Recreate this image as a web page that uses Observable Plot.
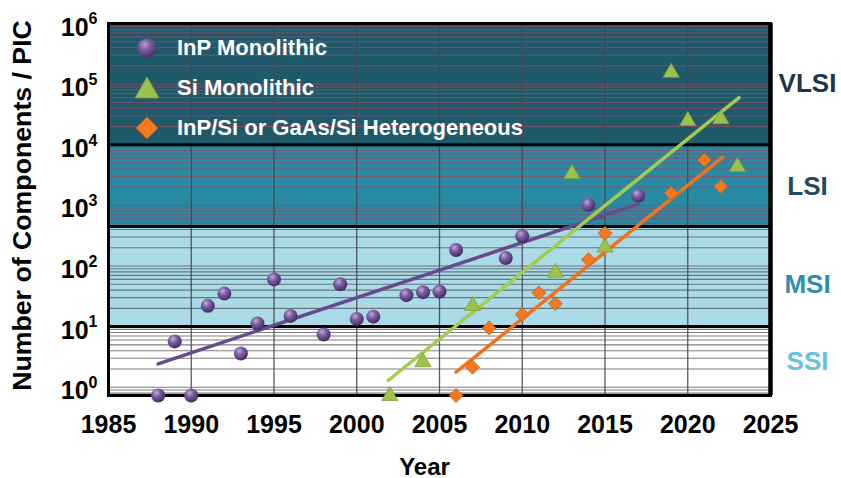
<!DOCTYPE html>
<html>
<head>
<meta charset="utf-8">
<script src="https://cdn.jsdelivr.net/npm/d3@7"></script>
<script src="https://cdn.jsdelivr.net/npm/@observablehq/plot@0.6"></script>
<style>
  html, body { margin: 0; padding: 0; background: #ffffff; }
  #wrap { position: relative; width: 841px; height: 478px; overflow: hidden; }
  #wrap svg { display: block; }
  .legend { position: absolute; left: 125px; top: 28px; font-family: "Liberation Sans", Arial, sans-serif; font-weight: bold; font-size: 22px; color: #ffffff; }
  .legend .row { display: flex; align-items: center; height: 40px; }
  .legend .row svg { width: 44px; height: 40px; margin-right: 8px; overflow: visible; }
</style>
</head>
<body>
<div id="wrap"></div>
<script>
// ---------- data ----------
const inpYears  = [1988, 1989, 1990, 1991, 1992, 1993, 1994, 1995, 1996, 1998, 1999, 2000, 2001, 2003, 2004, 2005, 2006, 2009, 2010, 2014, 2017];
const inpValues = [0.73, 5.7, 0.73, 22, 35, 3.6, 11.3, 60, 15, 7.4, 50, 13.4, 14.6, 33, 37, 38, 183, 135, 310, 1020, 1450];

const siYears  = [2002, 2004, 2007, 2012, 2013, 2015, 2019, 2020, 2022, 2023];
const siValues = [0.72, 2.6, 22, 78, 3300, 203, 155000, 24800, 26500, 4340];

const hetYears  = [2006, 2007, 2008, 2010, 2011, 2012, 2014, 2015, 2019, 2021, 2022];
const hetValues = [0.73, 2.14, 9.5, 15.8, 36, 24, 127, 346, 1590, 5600, 2040];

// trend line end points
const inpTrendYears = [1988, 2017];
const inpTrendValues = [2.43, 1050];
const siTrendYears = [2001.9, 2023.1];
const siTrendValues = [1.29, 60000];
const hetTrendYears = [2006, 2022.1];
const hetTrendValues = [1.77, 6170];

// integration bands
const bandNames   = ["SSI", "MSI", "LSI", "VLSI"];
const bandLow     = [0.73, 10, 450, 1e4];
const bandHigh    = [10, 450, 1e4, 1e6];
const bandFills   = ["#ffffff", "#aadbe6", "#2b8aa3", "#1f5a6b"];
const bandLabelAt = [2.6, 50, 2000, 1e5];
const bandLabelColors = ["#66c3da", "#2e8db0", "#1f4d5f", "#19384a"];

const seriesNames = ["InP Monolithic", "Si Monolithic", "InP/Si or GaAs/Si Heterogeneous"];

const xTicks = [1985, 1990, 1995, 2000, 2005, 2010, 2015, 2020, 2025];
const yTicks = [1, 10, 100, 1000, 1e4, 1e5, 1e6];
const yDomain = [0.73, 1e6];
const xDomain = [1985, 2025];

// ---------- derived tables ----------
const inp = inpYears.map((y, i) => ({year: y, value: inpValues[i]}));
const si = siYears.map((y, i) => ({year: y, value: siValues[i]}));
const het = hetYears.map((y, i) => ({year: y, value: hetValues[i]}));
const inpTrend = inpTrendYears.map((y, i) => ({year: y, value: inpTrendValues[i]}));
const siTrend = siTrendYears.map((y, i) => ({year: y, value: siTrendValues[i]}));
const hetTrend = hetTrendYears.map((y, i) => ({year: y, value: hetTrendValues[i]}));
const bands = bandNames.map((n, i) => ({name: n, lo: bandLow[i], hi: bandHigh[i], fill: bandFills[i], labelAt: bandLabelAt[i], labelColor: bandLabelColors[i]}));

const minor = [];
for (let k = -1; k < 6; k++) for (let m = 1; m < 10; m++) {
  const v = m * Math.pow(10, k);
  if (v > yDomain[0] && v < yDomain[1]) minor.push(v);
}
const minorLow = minor.filter(v => v < 10);
const minorMid = minor.filter(v => v > 10 && v < 450);
const minorHigh = minor.filter(v => v > 450);

const FONT = '"Liberation Sans", Arial, Helvetica, sans-serif';

const chart = Plot.plot({
  width: 841,
  height: 478,
  marginLeft: 108,
  marginRight: 71,
  marginTop: 23,
  marginBottom: 83,
  style: {fontFamily: FONT, background: "#ffffff", color: "#000"},
  x: {domain: xDomain},
  y: {type: "log", domain: yDomain},
  color: {type: "identity"},
  marks: [
    Plot.rect(bands, {y1: "lo", y2: "hi", fill: "fill"}),
    Plot.ruleY(minorLow, {stroke: "#7e7e7e", strokeWidth: 1.1}),
    Plot.ruleY(minorMid, {stroke: "#647680", strokeWidth: 1.1}),
    Plot.ruleY(minorHigh, {stroke: "#8a4e68", strokeWidth: 1, strokeOpacity: 0.85}),
    Plot.ruleX(xTicks.slice(1, -1), {stroke: "#4a4550", strokeWidth: 1.3, strokeOpacity: 0.9}),
    Plot.ruleY([10, 450, 1e4], {stroke: "#000", strokeWidth: 3}),
    Plot.frame({stroke: "#000", strokeWidth: 3}),
    Plot.ruleX([xDomain[1]], {stroke: "#000", strokeWidth: 4.5}),
    Plot.line(inpTrend, {x: "year", y: "value", stroke: "#654a8e", strokeWidth: 3.5}),
    Plot.line(siTrend, {x: "year", y: "value", stroke: "#a3cb4f", strokeWidth: 3.5}),
    Plot.line(hetTrend, {x: "year", y: "value", stroke: "#f27219", strokeWidth: 3.5}),
    Plot.dot(inp, {x: "year", y: "value", r: 7, fill: "url(#sphere)", stroke: "none"}),
    Plot.dot(si, {x: "year", y: "value", symbol: "triangle", r: 6, fill: "#9cc24c", stroke: "#7d9f3a", strokeWidth: 0.8}),
    Plot.dot(het, {x: "year", y: "value", symbol: "diamond2", r: 6.3, fill: "#f47a1f", stroke: "#c95c12", strokeWidth: 0.8}),
    Plot.axisX({ticks: xTicks, tickFormat: d => String(d), tickSize: 0, tickPadding: 20, fontSize: 25, fontWeight: "bold", label: null}),
    Plot.axisY({ticks: yTicks, tickFormat: d => "10^" + Math.round(Math.log10(d)), tickSize: 0, tickPadding: 11, dy: 4, fontSize: 25, fontWeight: "bold", label: null}),
    Plot.text(bands, {y: "labelAt", text: "name", frameAnchor: "right", textAnchor: "middle", dx: 37, fill: "labelColor", fontSize: 26, fontWeight: "bold"}),
    Plot.text(["Number of Components / PIC"], {frameAnchor: "left", textAnchor: "middle", rotate: -90, dx: -86, dy: -4, fontSize: 26.7, fontWeight: "bold", fill: "#000"}),
    Plot.text(["Year"], {frameAnchor: "bottom", textAnchor: "middle", dx: -15, dy: 79, fontSize: 24, fontWeight: "bold", fill: "#000"})
  ]
});

// gradient for spherical markers
const NS = "http://www.w3.org/2000/svg";
const defs = document.createElementNS(NS, "defs");
defs.innerHTML = '<radialGradient id="sphere" cx="38%" cy="32%" r="70%">' +
  '<stop offset="0%" stop-color="#c2aedb"/>' +
  '<stop offset="40%" stop-color="#7d5ea3"/>' +
  '<stop offset="100%" stop-color="#3e2a5c"/>' +
  '</radialGradient>';
chart.insertBefore(defs, chart.firstChild);

// superscript exponents on the y tick labels
chart.querySelectorAll('g[aria-label="y-axis tick label"] text').forEach(t => {
  const parts = t.textContent.split("^");
  if (parts.length !== 2) return;
  t.textContent = parts[0];
  const ts = document.createElementNS(NS, "tspan");
  ts.setAttribute("dy", "-0.7em");
  ts.setAttribute("font-size", "16");
  ts.textContent = parts[1];
  t.appendChild(ts);
});

const wrap = document.getElementById("wrap");
wrap.appendChild(chart);

// legend overlay inside the plot frame
const legend = document.createElement("div");
legend.className = "legend";
const legendSymbols = [
  '<circle cx="22" cy="20" r="9.5" fill="url(#sphereL)"/>',
  '<path d="M22,9 L34,30 L10,30 Z" fill="#9cc24c" stroke="#7d9f3a" stroke-width="0.8"/>',
  '<path d="M22,9 L33,20 L22,31 L11,20 Z" fill="#f47a1f" stroke="#c95c12" stroke-width="0.8"/>'
];
legend.innerHTML = seriesNames.map((n, i) =>
  '<div class="row"><svg viewBox="0 0 44 40">' +
  (i === 0 ? '<defs><radialGradient id="sphereL" cx="38%" cy="32%" r="70%"><stop offset="0%" stop-color="#b59bd2"/><stop offset="45%" stop-color="#7a5aa0"/><stop offset="100%" stop-color="#4a3368"/></radialGradient></defs>' : '') +
  legendSymbols[i] + '</svg><span>' + n + '</span></div>').join("");
wrap.appendChild(legend);
</script>
</body>
</html>
